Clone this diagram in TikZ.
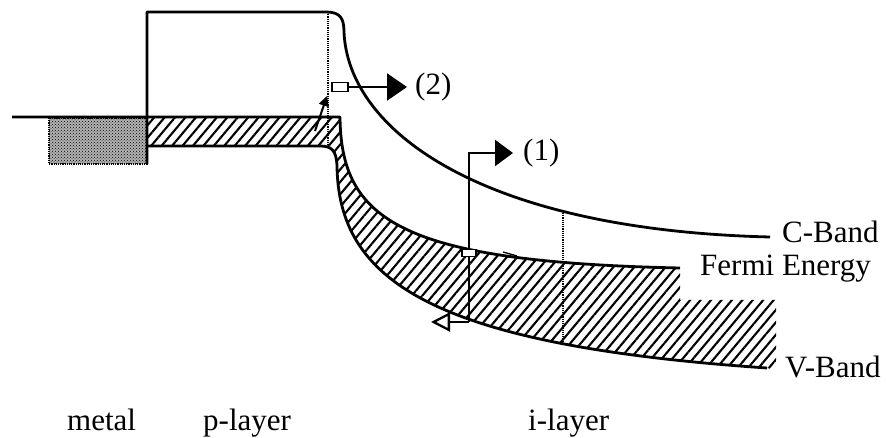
\documentclass[tikz,border=0pt]{standalone}
\usepackage{fontspec}
\setmainfont{Liberation Serif}
\usetikzlibrary{
    arrows.meta,
    patterns,
    patterns.meta,
    positioning
}
\newcommand{\bandfont}{\fontsize{31}{36}\selectfont}

\begin{document}
\begin{tikzpicture}[x=1pt, y=-1pt,
    band/.style={line width=2.8pt, line join=round},
    guide/.style={line width=1.2pt, densely dotted},
    arrowline/.style={line width=2.3pt},
    tag/.style={font=\bandfont, inner sep=0pt},
    markbox/.style={draw, line width=1.5pt, fill=white, minimum width=14pt, minimum height=7pt, inner sep=0pt}]

\useasboundingbox (0,0) rectangle (886,438);

% Hatched region (p-layer band, bending into the i-layer)
\fill[pattern={Lines[angle=50,distance=8pt,line width=2.1pt]}]
  (147,117) -- (340,117) .. controls (341,220) and (400,262) .. (680,268)
  -- (680,300) -- (776,300) -- (776,370) -- (767,368)
  .. controls (430,345) and (338,280) .. (337,165)
  .. controls (336,152) and (333,146) .. (320,146) -- (147,146) -- cycle;

% Metal
\fill[gray!60] (49,118) rectangle (147,164);
\fill[pattern=crosshatch dots] (49,118) rectangle (147,164);
\draw[line width=1.2pt, densely dotted] (49,118) rectangle (147,164);

% Dotted guides
\draw[guide] (328,12) -- (328,146);
\draw[guide] (563,213) -- (563,343);

% Bands
\draw[band] (12,117) -- (340,117) .. controls (341,220) and (400,262) .. (680,268);   % Fermi level
\draw[band] (147,146) -- (320,146) .. controls (333,146) and (336,152) .. (337,165)
  .. controls (338,280) and (430,345) .. (767,368);                                  % V-band
\draw[band] (147,164) -- (147,12) -- (326,12) .. controls (340,12) and (344,18) .. (344,32)
  .. controls (348,130) and (480,230) .. (770,237);                                  % C-band
\draw[line width=1.3pt] (503,252) -- (517,256);

% Labels
\node[tag, anchor=base west] (cband) at (782,243) {C-Band};
\node[tag, anchor=base west] (fermi) at (700,276) {Fermi Energy};
\node[tag, anchor=base west] (vband) at (785,377) {V-Band};
\node[tag, anchor=base west] (metal) at (67,430) {metal};
\node[tag, anchor=base west] (player) at (203,430) {p-layer};
\node[tag, anchor=base west] (ilayer) at (528,430) {i-layer};
\node[tag, anchor=west] (lbl1) at (523,153) {(1)};
\node[tag, anchor=west] (lbl2) at (415,87) {(2)};

% Path (1)
\coordinate (low1) at (469,322);
\coordinate (hole1) at (431,322);
\draw[arrowline, -{Triangle[length=18pt,width=26pt]}] (low1) |- ([xshift=-10pt]lbl1.west);
\draw[arrowline, -{Triangle[open,length=19pt,width=19pt]}] (low1) -- (hole1);
\node[markbox] (box1) at (469,253) {};

% Path (2)
\node[markbox, minimum width=16pt, minimum height=9pt] (box2) at (340,87) {};
\draw[arrowline, -{Triangle[length=20pt,width=27pt]}] (box2.east) -- ([xshift=-8pt]lbl2.west);
\coordinate (hole2) at (315,131);
\coordinate (hop2) at (327,96);
\draw[line width=2pt, -{Triangle[length=10pt,width=10pt]}] (hole2) -- (hop2);

\end{tikzpicture}
\end{document}
